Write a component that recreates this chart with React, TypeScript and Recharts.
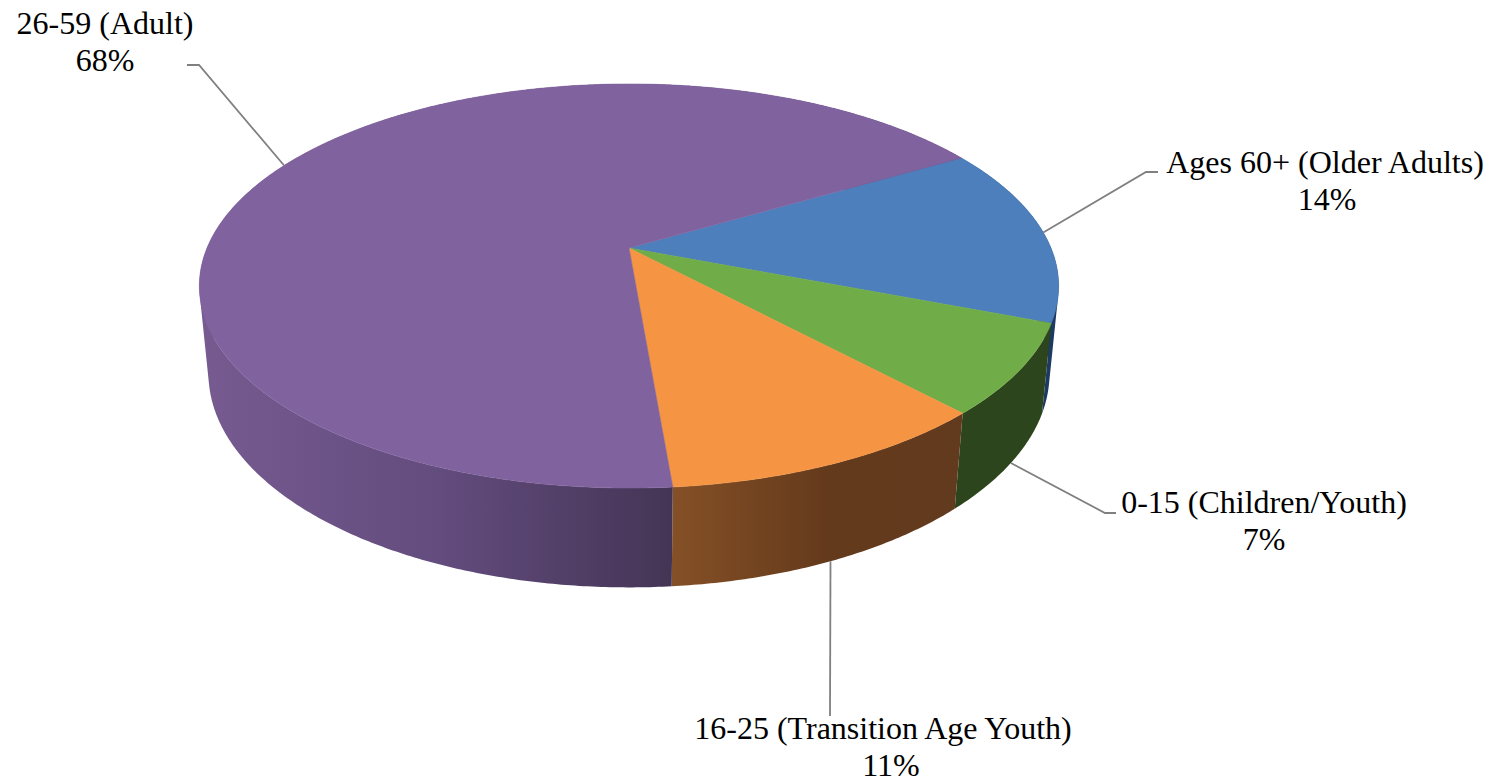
import { Pie, PieChart } from "recharts";

const categories = [
  "Ages 60+ (Older Adults)",
  "0-15 (Children/Youth)",
  "16-25 (Transition Age Youth)",
  "26-59 (Adult)",
];
// unrounded shares, the labels show them rounded
const shares = [14.3, 7.2, 10.6, 67.9];
const topColors = ["#4c7fbc", "#70ac47", "#f59443", "#80629f"];
const wallColors = ["#1d3a62", "#2d451c", "url(#wall-orange)", "url(#wall-purple)"];

const pieData = categories.map((name, i) => ({
  name,
  value: shares[i],
  fill: topColors[i],
  wall: wallColors[i],
}));

const WIDTH = 1506;
const HEIGHT = 780;
const FONT = '"Liberation Serif", "Times New Roman", serif';
const START_ANGLE = 30.4;

// where each label sits: text centres, first baseline, elbow of the leader line, end of the leader line
const labelLayout = [
  { x: 1325, valueX: 1327, y: 173, elbow: [1146, 172], end: [1158, 172] },
  { x: 1264, valueX: 1264, y: 513, elbow: [1105, 513], end: [1116, 513] },
  { x: 883, valueX: 891, y: 739, elbow: [830, 716], end: [830, 716] },
  { x: 105, valueX: 105, y: 34, elbow: [199, 65], end: [187, 65] },
];

// perspective of the tilted disc: angle on the flat pie -> point on screen
const APEX_X = 629;
const APEX_Y = 248;
const project = (angle: number, depth = 0) => {
  const rad = (angle * Math.PI) / 180;
  const u = Math.cos(rad);
  const v = -Math.sin(rad);
  const w = 1 - 0.188 * v + 0.021 * depth;
  return [
    APEX_X + (422 * u) / w,
    (148.3 * v + APEX_Y + 93 * depth) / w,
  ];
};

const arcPoints = (from: number, to: number, depth: number) => {
  const steps = Math.max(2, Math.ceil(Math.abs(to - from) * 2));
  const pts: number[][] = [];
  for (let i = 0; i <= steps; i++) {
    pts.push(project(from + ((to - from) * i) / steps, depth));
  }
  return pts;
};

const toPath = (pts: number[][]) =>
  pts.map((p, i) => `${i ? "L" : "M"}${p[0].toFixed(2)} ${p[1].toFixed(2)}`).join(" ") + " Z";

const signedArea = (pts: number[][]) =>
  pts.reduce((sum, p, i) => {
    const q = pts[(i + 1) % pts.length];
    return sum + p[0] * q[1] - q[0] * p[1];
  }, 0);

function TopFace(props: any) {
  const pts = [[APEX_X, APEX_Y], ...arcPoints(props.startAngle, props.endAngle, 0)];
  return <path d={toPath(pts)} fill={props.fill} stroke={props.fill} strokeWidth={0.5} />;
}

// the wall folds over at the silhouette, so it is built from small quads that all
// wind the same way, otherwise the overlap near the fold cancels out and leaves a hole
function WallFace(props: any) {
  const top = arcPoints(props.startAngle, props.endAngle, 0);
  const bottom = arcPoints(props.startAngle, props.endAngle, 1);
  const quads: string[] = [];
  for (let i = 0; i < top.length - 1; i++) {
    const quad = [top[i], top[i + 1], bottom[i + 1], bottom[i]];
    quads.push(toPath(signedArea(quad) < 0 ? quad.reverse() : quad));
  }
  return <path d={quads.join(" ")} fill={props.wall} />;
}

function SliceLabel(props: any) {
  const { index, midAngle, name, value } = props;
  const spot = labelLayout[index];
  // the front slices have their leader on the wall, the back ones on the rim
  const anchor = project(midAngle, index === 1 || index === 2 ? 1 : 0);
  return (
    <g>
      <polyline
        points={`${anchor[0]},${anchor[1]} ${spot.elbow[0]},${spot.elbow[1]} ${spot.end[0]},${spot.end[1]}`}
        fill="none"
        stroke="#808080"
        strokeWidth={1.8}
      />
      <text x={spot.x} y={spot.y} textAnchor="middle" fontFamily={FONT} fontSize={32} fill="#000">
        {name}
      </text>
      <text x={spot.valueX} y={spot.y + 36.5} textAnchor="middle" fontFamily={FONT} fontSize={32} fill="#000">
        {Math.round(value)}%
      </text>
    </g>
  );
}

export default function App() {
  return (
    <div style={{ position: "fixed", left: 0, top: 0, width: WIDTH, height: HEIGHT, background: "#fff", overflow: "hidden" }}>
      <PieChart width={WIDTH} height={HEIGHT} margin={{ top: 0, right: 0, bottom: 0, left: 0 }}>
        <defs>
          <linearGradient id="wall-purple" gradientUnits="userSpaceOnUse" x1={205} y1={0} x2={671} y2={0}>
            <stop offset="0%" stopColor="#765a90" />
            <stop offset="50%" stopColor="#634c7e" />
            <stop offset="100%" stopColor="#443555" />
          </linearGradient>
          <linearGradient id="wall-orange" gradientUnits="userSpaceOnUse" x1={671} y1={0} x2={955} y2={0}>
            <stop offset="0%" stopColor="#855026" />
            <stop offset="55%" stopColor="#643a1c" />
            <stop offset="100%" stopColor="#623a1d" />
          </linearGradient>
        </defs>
        <Pie
          data={pieData}
          dataKey="value"
          nameKey="name"
          cx={APEX_X}
          cy={APEX_Y}
          outerRadius={200}
          startAngle={START_ANGLE}
          endAngle={START_ANGLE - 360}
          paddingAngle={0}
          stroke="none"
          shape={WallFace}
          label={false}
          labelLine={false}
          isAnimationActive={false}
        />
        <Pie
          data={pieData}
          dataKey="value"
          nameKey="name"
          cx={APEX_X}
          cy={APEX_Y}
          outerRadius={200}
          startAngle={START_ANGLE}
          endAngle={START_ANGLE - 360}
          paddingAngle={0}
          stroke="none"
          shape={TopFace}
          label={SliceLabel}
          labelLine={false}
          isAnimationActive={false}
        />
      </PieChart>
    </div>
  );
}
